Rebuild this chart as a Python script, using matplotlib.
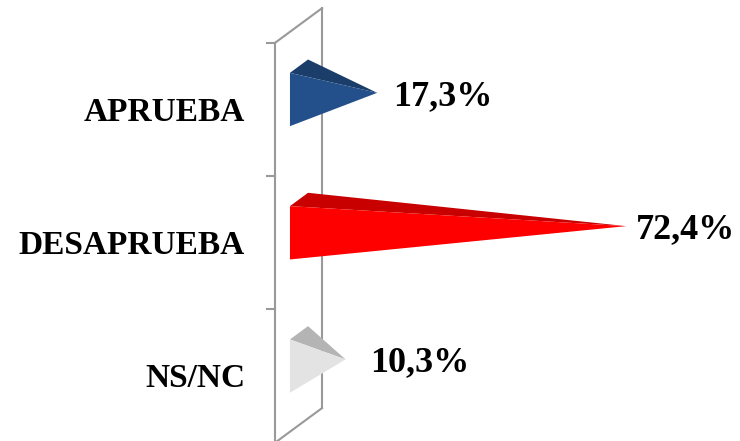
import matplotlib.pyplot as plt
from matplotlib.patches import Polygon

# datos
categorias = ["APRUEBA", "DESAPRUEBA", "NS/NC"]
valores = [17.3, 72.4, 10.3]
etiquetas = ["17,3%", "72,4%", "10,3%"]

# colores (cara frontal, cara superior)
col_frente = ["#23508a", "#ff0000", "#e3e3e3"]
col_arriba = ["#1b3d6a", "#c80000", "#b4b4b4"]
col_marco = "#999999"

# geometria (unidades de datos: x en %, y en indice de categoria)
W, H = 740, 441
px_x = 4.52             # px por 1 %
px_y = 133.3            # px por categoria
x0_px = 299             # posicion del 0 %
y0_px = 109.5           # centro de la primera categoria

base_x = -2.0           # borde frontal de la piramide
prof_x = 4.0            # profundidad en x
prof_y = 0.1            # profundidad en y
medio_alto = 0.2
desp_y = -0.075

pad_px = [16, 10, 25]   # separacion etiqueta-punta

fig = plt.figure(figsize=(W / 100, H / 100), dpi=100)
ax = fig.add_axes([0, 0, 1, 1])
ax.set_xlim(-x0_px / px_x, (W - x0_px) / px_x)
ax.set_ylim((H - y0_px) / px_y, -y0_px / px_y)
ax.axis("off")

# marco (pared)
fx = -24 / px_x
bx = 23 / px_x
dy = 0.26
lw = 1.5
ax.plot([fx, fx], [-0.5, 2.6], color=col_marco, lw=lw, zorder=1)
ax.plot([bx, bx], [-0.5 - dy, 2.5 - dy], color=col_marco, lw=lw, zorder=1)
ax.plot([fx, bx], [-0.5, -0.5 - dy], color=col_marco, lw=lw, zorder=1)
ax.plot([fx, bx], [2.5, 2.5 - dy], color=col_marco, lw=lw, zorder=1)
for t in [-0.5, 0.5, 1.5, 2.5]:
    ax.plot([fx - 8 / px_x, fx], [t, t], color=col_marco, lw=lw, zorder=1)

# piramides
for i, v in enumerate(valores):
    yc = i + desp_y
    punta = (v, yc - prof_y / 2)
    frente = [(base_x, yc - medio_alto), (base_x, yc + medio_alto), punta]
    arriba = [(base_x, yc - medio_alto),
              (base_x + prof_x, yc - medio_alto - prof_y), punta]
    ax.add_patch(Polygon(arriba, closed=True, fc=col_arriba[i], ec="none", zorder=3))
    ax.add_patch(Polygon(frente, closed=True, fc=col_frente[i], ec="none", zorder=4))

    ax.annotate(etiquetas[i], xy=punta, xytext=(pad_px[i] * 0.72, -2.5),
                textcoords="offset points", ha="left", va="center",
                fontsize=26, fontweight="bold", family="Liberation Serif")

    ax.text(-54 / px_x, i + 0.02, categorias[i], ha="right", va="center",
            fontsize=24, fontweight="bold", family="Liberation Serif")

plt.savefig("out.png", dpi=100)
